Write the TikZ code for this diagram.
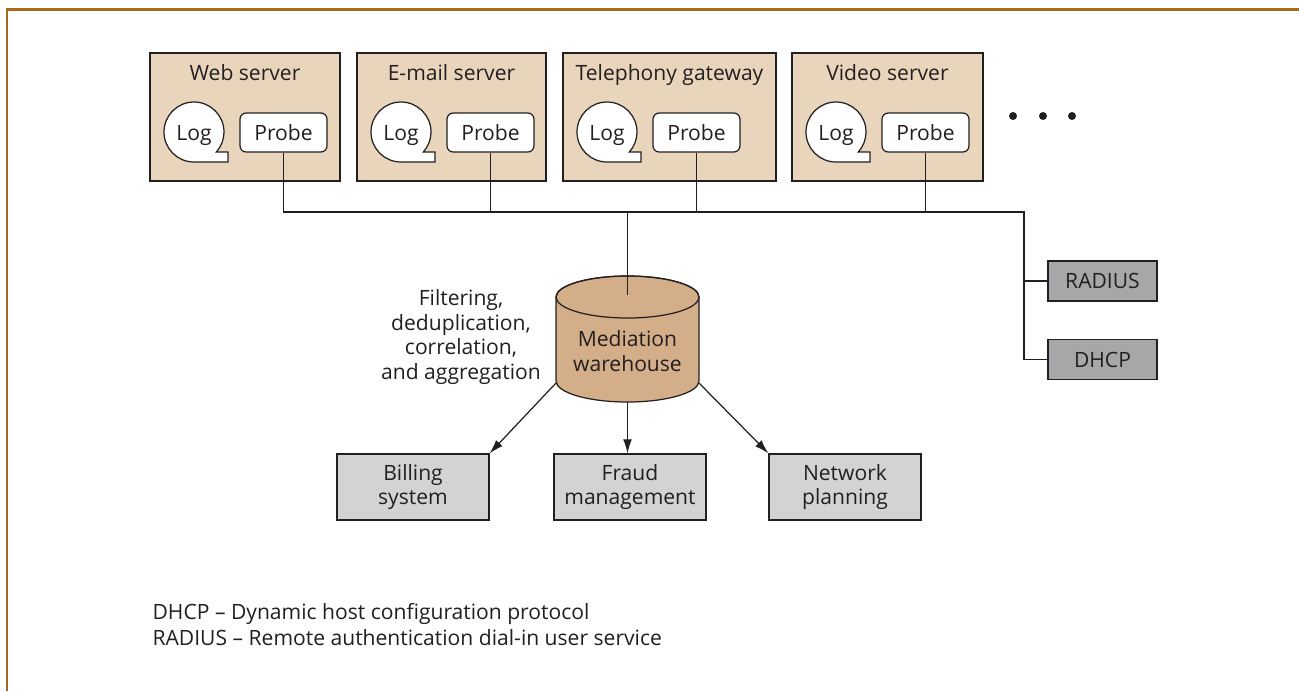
\documentclass[tikz,border=0pt]{standalone}
\usepackage{fontspec}
\setmainfont{Open Sans}
\usetikzlibrary{arrows.meta, calc}
\definecolor{rim}{RGB}{168,104,30}
\definecolor{ink}{RGB}{35,31,32}
\definecolor{hostfill}{RGB}{232,213,188}
\definecolor{tankfill}{RGB}{212,174,136}
\definecolor{appfill}{RGB}{211,211,213}
\definecolor{auxfill}{RGB}{167,167,169}

\begin{document}
\begin{tikzpicture}[x=0.02cm, y=-0.02cm, color=ink, line width=0.7pt,
    every node/.style={font=\fontsize{12}{13.9}\selectfont},
    host/.style={draw, fill=hostfill, minimum height=2.56cm, inner sep=0pt},
    probe/.style={draw, fill=white, rounded corners=3.5pt, minimum width=1.74cm, minimum height=0.78cm, inner sep=0pt},
    logbubble/.style={draw, fill=white},
    app/.style={draw, fill=appfill, minimum width=3.04cm, minimum height=1.32cm, align=center, inner sep=0pt},
    aux/.style={draw, fill=auxfill, minimum width=2.18cm, minimum height=0.8cm, inner sep=0pt},
    flow/.style={-{Latex[length=8pt, width=5pt]}}]
      \useasboundingbox (0,0) rectangle (1299,691);
      \draw[rim, line width=1.7pt] (7,691) -- (7,9) -- (1299,9);
      % Servers
      \node[host, minimum width=3.8cm] (web) at (245,117) {};
      \node[anchor=base] (webtitle) at (245,80) {Web server};
      \draw[logbubble] (194,162) arc[start angle=90, end angle=401.8, radius=30] -- (228,152) -- (228,162) -- cycle;
      \node[anchor=base] (weblog) at (194,140) {Log};
      \node[probe] (webprobe) at (283.5,132.5) {Probe};
      \node[host, minimum width=3.78cm] (mail) at (451.5,117) {};
      \node[anchor=base] (mailtitle) at (451.5,80) {E-mail server};
      \draw[logbubble] (401,162) arc[start angle=90, end angle=401.8, radius=30] -- (435,152) -- (435,162) -- cycle;
      \node[anchor=base] (maillog) at (401,140) {Log};
      \node[probe] (mailprobe) at (490.5,132.5) {Probe};
      \node[host, minimum width=4.26cm] (tel) at (669.5,117) {};
      \node[anchor=base] (teltitle) at (669.5,80) {Telephony gateway};
      \draw[logbubble] (607,162) arc[start angle=90, end angle=401.8, radius=30] -- (641,152) -- (641,162) -- cycle;
      \node[anchor=base] (tellog) at (607,140) {Log};
      \node[probe] (telprobe) at (696.5,132.5) {Probe};
      \node[host, minimum width=3.82cm] (vid) at (887.5,117) {};
      \node[anchor=base] (vidtitle) at (887.5,80) {Video server};
      \draw[logbubble] (836,162) arc[start angle=90, end angle=401.8, radius=30] -- (870,152) -- (870,162) -- cycle;
      \node[anchor=base] (vidlog) at (836,140) {Log};
      \node[probe] (vidprobe) at (925.5,132.5) {Probe};
      \fill (1013,116) circle[radius=4] (1043,116) circle[radius=4] (1072,116) circle[radius=4];
      % Side services
      \node[aux] (radius) at (1102.5,281) {RADIUS};
      \node[aux] (dhcp) at (1102.5,359.5) {DHCP};
      % Bus
      \coordinate (bend) at (1024,212);
      \draw (webprobe.south) |- (bend) |- (dhcp.west);
      \draw (mailprobe.south) -- (mailprobe.south |- bend);
      \draw (telprobe.south) -- (telprobe.south |- bend);
      \draw (vidprobe.south) -- (vidprobe.south |- bend);
      \draw (bend |- radius.west) -- (radius.west);
      % Warehouse
      \filldraw[fill=tankfill] (556,297) -- (556,381) arc[start angle=180, end angle=0, x radius=71.5, y radius=21] -- (699,297) arc[start angle=0, end angle=-180, x radius=71.5, y radius=21] -- cycle;
      \draw (627.5,297) ellipse[x radius=71.5, y radius=21];
      \node[align=center] (warehouse) at (627.5,351) {Mediation\\warehouse};
      \coordinate (whtop) at (627.5,295);
      \coordinate (whleft) at (556,383);
      \coordinate (whbottom) at (627.5,402);
      \coordinate (whright) at (699,383);
      \draw (whtop |- bend) -- (whtop);
      \node[align=center] (steps) at (461,337) {Filtering,\\deduplication,\\correlation,\\and aggregation};
      % Consumers
      \node[app] (billing) at (413,487) {Billing\\system};
      \node[app] (fraud) at (630,487) {Fraud\\management};
      \node[app] (planning) at (845,487) {Network\\planning};
      \draw[flow] (whleft) -- (billing.north east);
      \draw[flow] (whbottom) -- (whbottom |- fraud.north);
      \draw[flow] (whright) -- (planning.north west);
      % Key
      \node[anchor=base west, inner sep=0pt] (keydhcp) at (152,619.5) {DHCP – Dynamic host configuration protocol};
      \node[anchor=base west, inner sep=0pt] (keyradius) at (152,645.5) {RADIUS – Remote authentication dial-in user service};
    \end{tikzpicture}
\end{document}
